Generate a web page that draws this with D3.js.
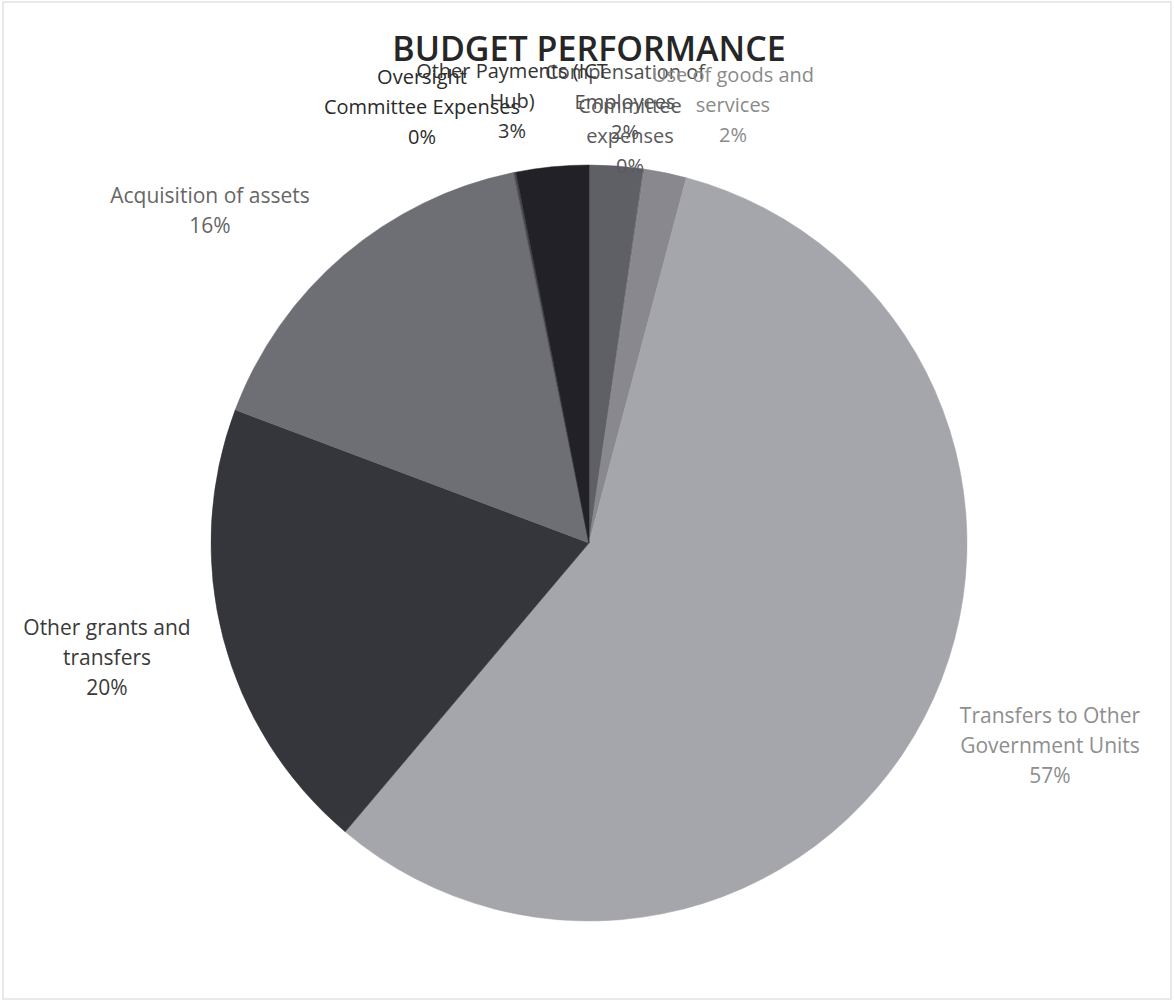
<!DOCTYPE html>
<html>
<head>
<meta charset="utf-8">
<script src="https://cdn.jsdelivr.net/npm/d3@7"></script>
<style>
  body { margin: 0; background: #fff; }
  text { font-family: 'Open Sans', 'Liberation Sans', sans-serif; }
</style>
</head>
<body>
<svg id="chart" width="1174" height="1002"></svg>
<script>
// budget shares, clockwise from 12 o'clock
const categories = ['Compensation of Employees', 'Committee expenses', 'Use of goods and services',
  'Transfers to Other Government Units', 'Other grants and transfers', 'Acquisition of assets',
  'Oversight Committee Expenses', 'Other Payments (ICT Hub)'];
const shares = [2.3, 0.05, 1.8, 57.1, 19.6, 16.1, 0.1, 3.1];

// how each data label wraps in the original
const labelLines = [
  ['Compensation of', 'Employees'],
  ['Committee', 'expenses'],
  ['Use of goods and', 'services'],
  ['Transfers to Other', 'Government Units'],
  ['Other grants and', 'transfers'],
  ['Acquisition of assets'],
  ['Oversight', 'Committee Expenses'],
  ['Other Payments (ICT', 'Hub)']
];

const sliceColors = ['#5f5f66', '#707076', '#88888e', '#a5a5ac', '#35353c', '#6e6e75', '#48484e', '#212127'];
const labelColors = ['#505050', '#5a5a5a', '#8a8a8a', '#8e8e8e', '#3a3a3a', '#666666', '#2a2a2a', '#333333'];
// label anchor (centre x, first baseline) relative to the pie centre, and font size
const labelAt = [[36, -464], [41, -430], [144, -461], [461, 180], [-482, 92], [-379, -340], [-167, -459], [-77, -465]];
const labelSize = [20, 20, 20, 21, 21, 21, 20, 20];

const svg = d3.select('#chart');
const cx = 589, cy = 543, R = 378, lineH = 30;

svg.append('rect')
  .attr('x', 3).attr('y', 2).attr('width', 1168).attr('height', 997)
  .attr('fill', 'none').attr('stroke', '#e2e2e6').attr('stroke-width', 1.5);

const pie = d3.pie().sort(null).value(d => d);
const arc = d3.arc().innerRadius(0).outerRadius(R);
const total = d3.sum(shares);

const g = svg.append('g').attr('transform', `translate(${cx},${cy})`);

g.selectAll('path')
  .data(pie(shares))
  .enter()
  .append('path')
  .attr('d', arc)
  .attr('fill', (d, i) => sliceColors[i])
  .attr('stroke', (d, i) => sliceColors[i])
  .attr('stroke-width', 0.5);

const labels = g.selectAll('text.lbl')
  .data(shares)
  .enter()
  .append('text')
  .attr('class', 'lbl')
  .attr('text-anchor', 'middle')
  .style('font-size', (d, i) => labelSize[i] + 'px')
  .attr('fill', (d, i) => labelColors[i]);

labels.each(function(d, i) {
  const t = d3.select(this);
  const lines = labelLines[i].concat([`${Math.round(d / total * 100)}%`]);
  lines.forEach((s, k) => {
    t.append('tspan')
      .attr('x', labelAt[i][0])
      .attr('y', labelAt[i][1] + k * lineH)
      .text(s);
  });
});

svg.append('text')
  .attr('x', cx)
  .attr('y', 61)
  .attr('text-anchor', 'middle')
  .attr('fill', '#262626')
  .style('font-size', '34px')
  .style('font-weight', '600')
  .text('BUDGET PERFORMANCE');
</script>
</body>
</html>
